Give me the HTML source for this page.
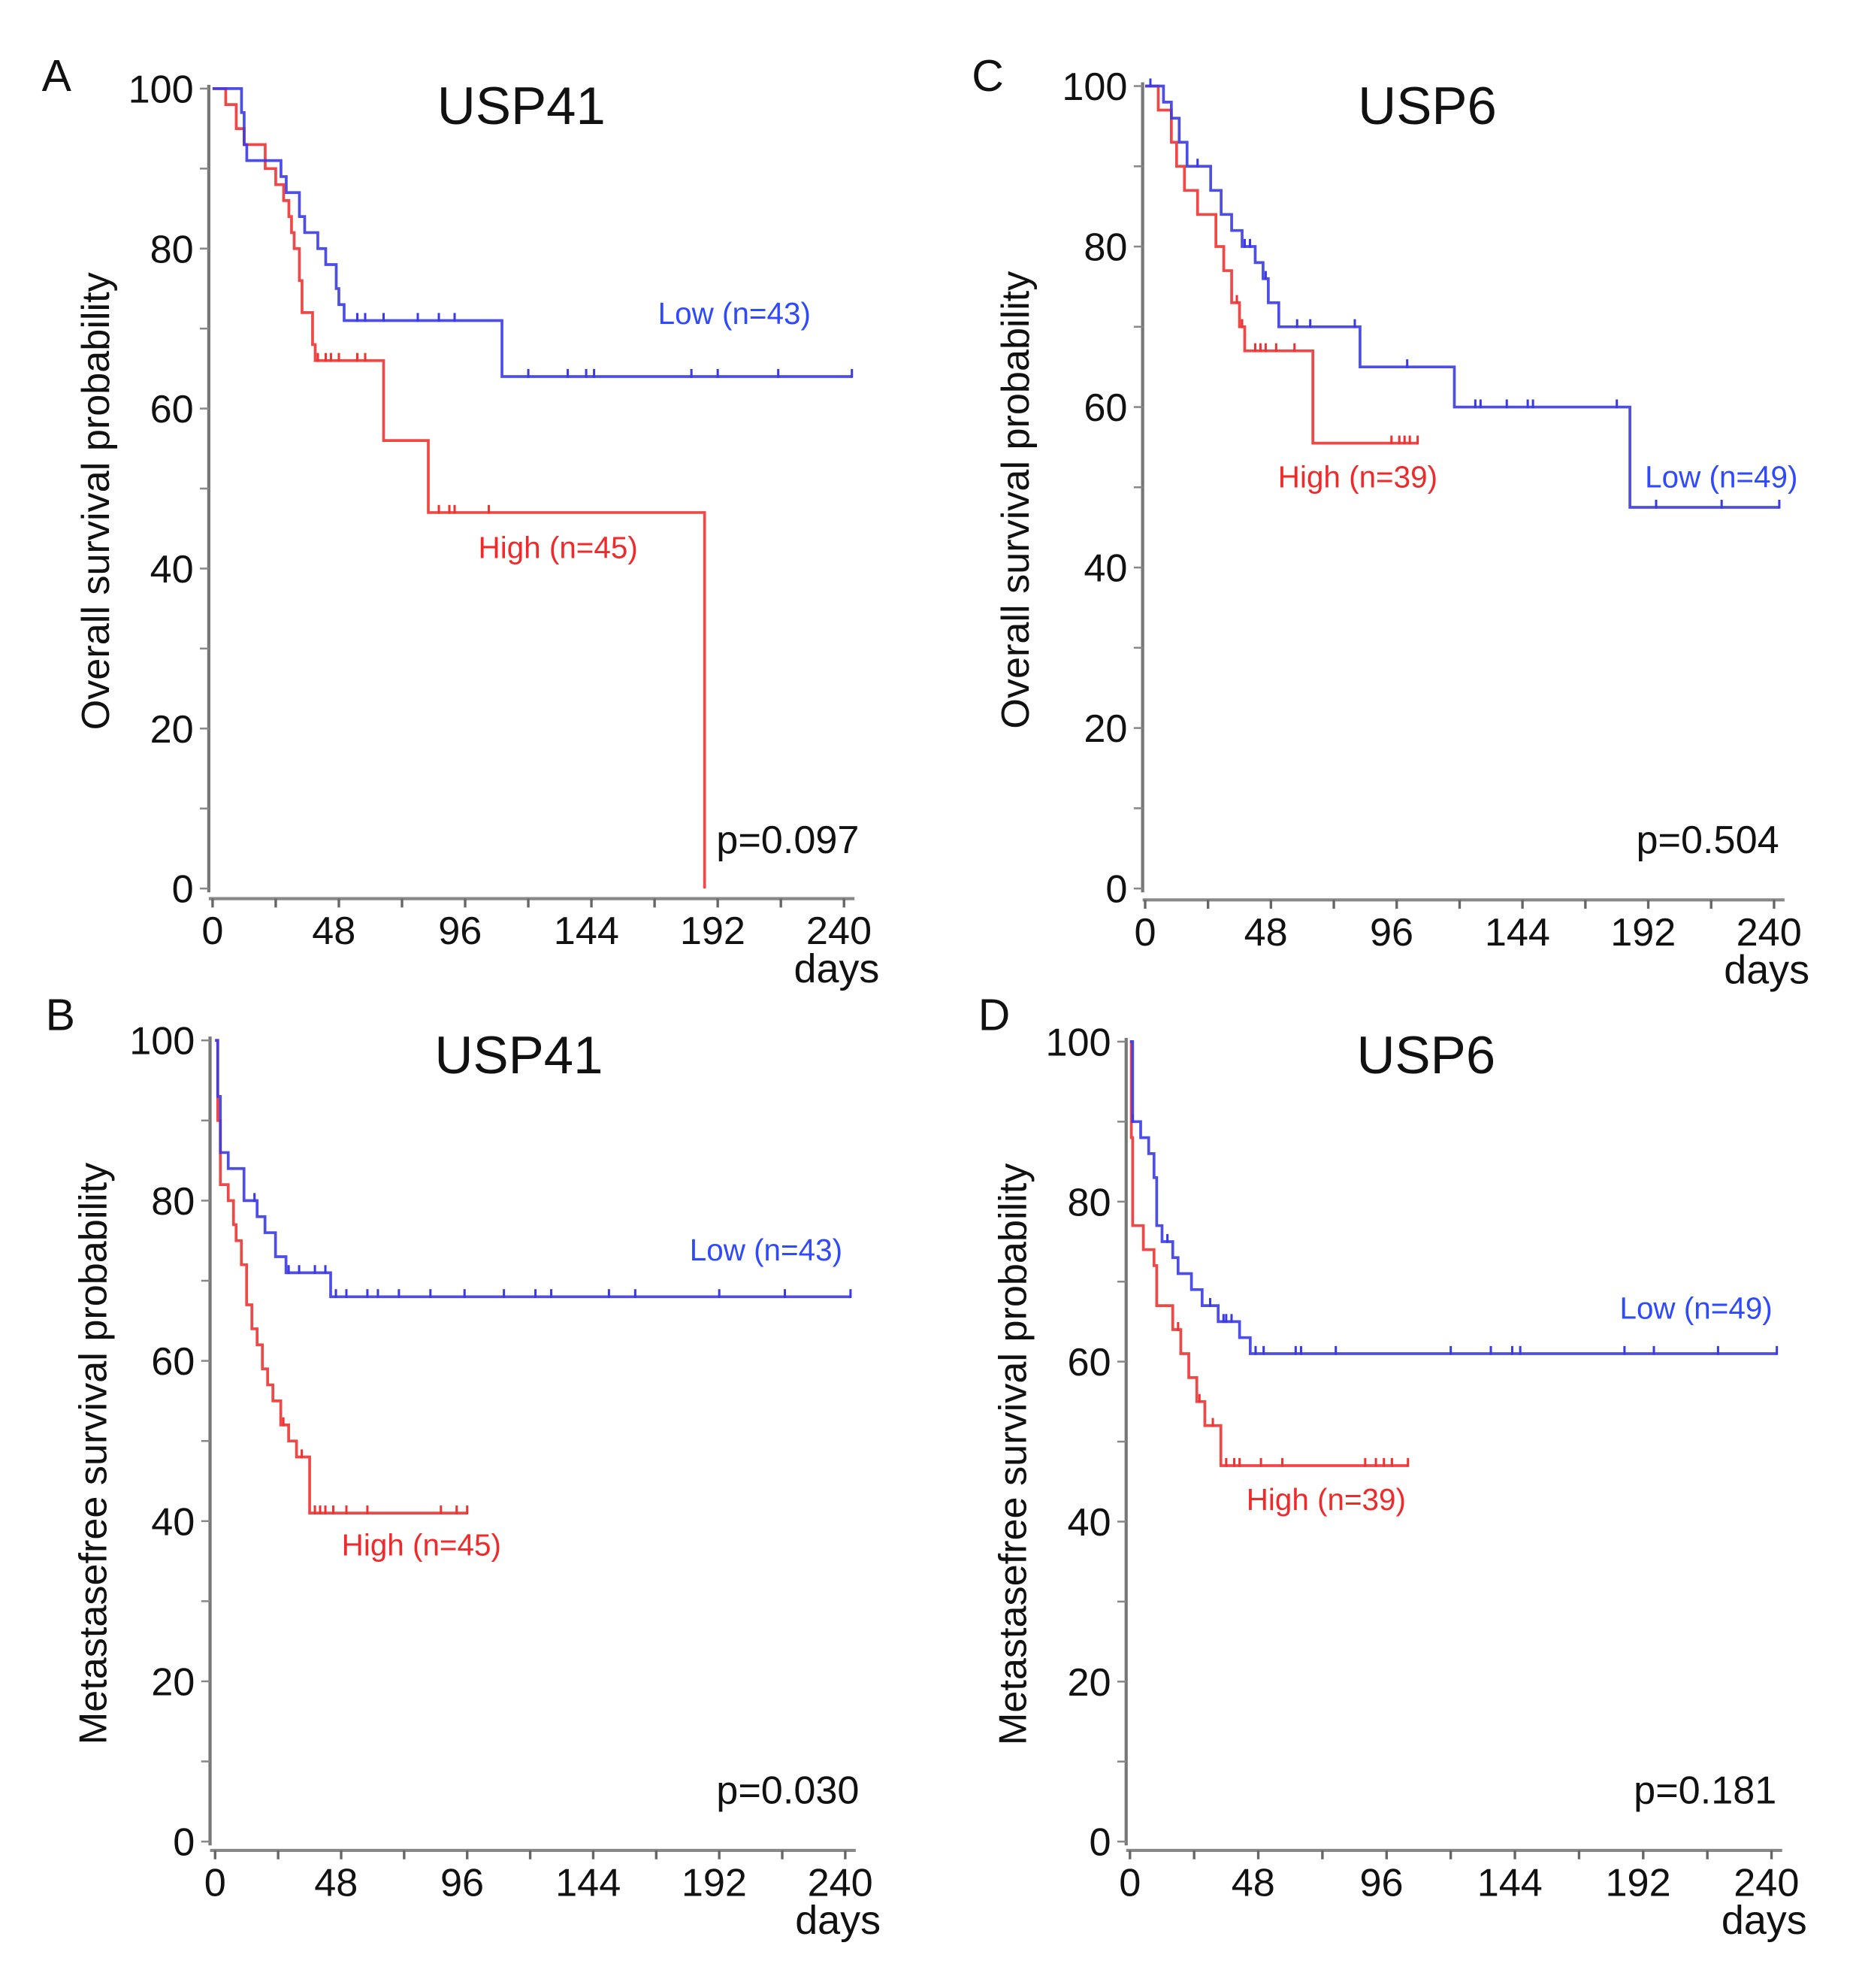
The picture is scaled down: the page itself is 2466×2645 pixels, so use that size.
<!DOCTYPE html>
<html><head><meta charset="utf-8"><title>Kaplan-Meier survival curves</title>
<style>
html,body{margin:0;padding:0;background:#fff;}
svg{display:block;}
text{font-family:"Liberation Sans",sans-serif;}
</style></head>
<body>
<svg id="fig" width="2466" height="2645" viewBox="0 0 1464.4 1570.7" xmlns="http://www.w3.org/2000/svg"></svg>
<script>
// ---- Data (days, survival %) ----
const yTicks = [0, 20, 40, 60, 80, 100];
const xTicks = [0, 48, 96, 144, 192, 240];

const aLowT = [0, 11, 12, 13, 26, 28, 33, 35, 40, 43, 47, 48, 50, 110, 243];
const aLowS = [100, 97, 93, 91, 89, 87, 84, 82, 80, 78, 75, 73, 71, 64, 64];
const aLowC = [55, 58, 65, 78, 86, 92, 120, 135, 142, 145, 182, 192, 215, 243];
const aHighT = [0, 5, 9, 12, 20, 24, 27, 29, 30, 31, 33, 34, 38, 39, 65, 82, 187, 187];
const aHighS = [100, 98, 95, 93, 90, 88, 86, 84, 82, 80, 76, 72, 68, 66, 56, 47, 47, 0];
const aHighC = [40, 43, 45, 48, 55, 58, 86, 90, 92, 105];

const bLowT = [0, 1, 2, 5, 11, 16, 19, 23, 27, 44, 242];
const bLowS = [100, 93, 86, 84, 80, 78, 76, 73, 71, 68, 68];
const bLowC = [15, 28, 32, 38, 42, 46, 50, 58, 62, 70, 82, 95, 110, 122, 128, 150, 160, 192, 217, 242];
const bHighT = [0, 1, 2, 5, 7, 8, 10, 12, 14, 16, 18, 20, 22, 25, 28, 31, 36, 96];
const bHighS = [100, 90, 82, 80, 77, 75, 72, 67, 64, 62, 59, 57, 55, 52, 50, 48, 41, 41];
const bHighC = [26, 33, 38, 40, 42, 45, 50, 58, 86, 92, 96];

const cLowT = [0, 7, 10, 13, 16, 25, 29, 33, 37, 42, 45, 47, 51, 82, 118, 185, 242];
const cLowS = [100, 98, 96, 93, 90, 87, 84, 82, 80, 78, 76, 73, 70, 65, 60, 47.5, 47.5];
const cLowC = [2, 20, 38, 40, 46, 58, 63, 80, 100, 126, 128, 138, 146, 148, 180, 195, 220, 242];
const cHighT = [0, 5, 10, 12, 15, 20, 27, 30, 33, 36, 38, 40, 64, 104];
const cHighS = [100, 97, 93, 90, 87, 84, 80, 77, 73, 70, 67, 67, 55.5, 55.5];
const cHighC = [35, 37, 42, 44, 46, 50, 57, 94, 97, 99, 101, 104];

const dLowT = [0, 1, 4, 7, 9, 10, 12, 16, 18, 23, 27, 33, 41, 45, 242];
const dLowS = [100, 90, 88, 86, 83, 77, 75, 73, 71, 69, 67, 65, 63, 61, 61];
const dLowC = [1, 14, 30, 35, 36, 38, 47, 50, 62, 64, 77, 120, 135, 143, 146, 185, 196, 220, 242];
const dHighT = [0, 0.5, 1, 5, 9, 10, 16, 19, 22, 25, 28, 34, 104];
const dHighS = [100, 88, 77, 74, 72, 67, 64, 61, 58, 55, 52, 47, 47];
const dHighC = [18, 26, 31, 36, 39, 41, 49, 57, 88, 92, 95, 98, 104];

const NS = "http://www.w3.org/2000/svg";
const svg = document.getElementById("fig");
function mk(tag, attrs, parent) {
  const e = document.createElementNS(NS, tag);
  for (const k in attrs) e.setAttribute(k, attrs[k]);
  (parent || svg).appendChild(e);
  return e;
}
function txt(str, attrs, parent) { const t = mk("text", attrs, parent); t.textContent = str; return t; }

const BLUE = "#3a3ae6", RED = "#ee3333";

function panel(cfg) {
  const g = mk("g", {});
  
  
  const xs = d => cfg.x0 + (d / 240) * (cfg.x240 - cfg.x0);
  const ys = v => cfg.y0 - (v / 100) * (cfg.y0 - cfg.y100);

  const lt = txt(cfg.letter, {x: cfg.letterX, y: cfg.letterY, "font-size": 35, fill: "#111"}, g);
  
  
  const ti = txt(cfg.title, {x: cfg.titleX, y: cfg.titleY, "font-size": 42, "text-anchor": "middle", fill: "#111"}, g);
  
  

  // y axis
  const ya = mk("line", {x1: cfg.ax, y1: cfg.y100 - 3, x2: cfg.ax, y2: cfg.y0 + 3, stroke: "#777", "stroke-width": 2.5}, g);
  
  
  for (let v = 0; v <= 100; v += 10) {
    mk("line", {x1: cfg.ax - 7, y1: ys(v), x2: cfg.ax, y2: ys(v), stroke: "#888", "stroke-width": 1.5}, g);
  }
  yTicks.forEach(v => {
    const t = txt(String(v), {x: cfg.ax - 12, y: ys(v) + 11, "font-size": 31, "text-anchor": "end", fill: "#111"}, g);
    
    
  });
  const yl = txt(cfg.ylab, {x: 0, y: 0, "font-size": 31, "text-anchor": "middle", fill: "#111",
    transform: `translate(${cfg.ylabX},${(cfg.y0 + cfg.y100) / 2 + 10}) rotate(-90)`}, g);
  
  

  // x axis
  const xa = mk("line", {x1: cfg.ax, y1: cfg.xay, x2: xs(244), y2: cfg.xay, stroke: "#888", "stroke-width": 2.5}, g);
  
  
  for (let d = 0; d <= 240; d += 24) {
    mk("line", {x1: xs(d), y1: cfg.xay, x2: xs(d), y2: cfg.xay + 7, stroke: "#666", "stroke-width": 2}, g);
  }
  xTicks.forEach(d => {
    const t = txt(String(d), {x: xs(d) + (d === 0 ? 0 : -4), y: cfg.xay + 36, "font-size": 31, "text-anchor": "middle", fill: "#111"}, g);
    
    
  });
  const dl = txt("days", {x: cfg.x240 + 28, y: cfg.xay + 66, "font-size": 32, "text-anchor": "end", fill: "#111"}, g);
  
  

  function curve(T, S, C, color, name) {
    let d = `M${xs(T[0])},${ys(S[0])}`;
    for (let i = 1; i < T.length; i++) d += ` H${xs(T[i])} V${ys(S[i])}`;
    const p = mk("path", {d: d, fill: "none", stroke: color, "stroke-width": 2.2, "stroke-opacity": 0.9}, g);
    
    
    C.forEach(c => {
      let s = S[0];
      for (let i = 0; i < T.length; i++) if (T[i] <= c) s = S[i];
      const m = mk("line", {x1: xs(c), y1: ys(s) - 6, x2: xs(c), y2: ys(s) + 1, stroke: color, "stroke-width": 1.8}, g);
      
      
    });
  }
  curve(cfg.highT, cfg.highS, cfg.highC, RED, 'high');
  curve(cfg.lowT, cfg.lowS, cfg.lowC, BLUE, 'low');

  const ll = txt(cfg.lowLab, {x: cfg.lowX, y: cfg.lowY, "font-size": 24, fill: "#2f49ff"}, g);
  
  
  const hl = txt(cfg.highLab, {x: cfg.highX, y: cfg.highY, "font-size": 24, fill: "#f02a2a"}, g);
  
  
  const pv = txt(cfg.p, {x: cfg.pX, y: cfg.pY, "font-size": 31, "text-anchor": "end", fill: "#111"}, g);
  
  
}

panel({letter: "A", letterX: 33, letterY: 72, title: "USP41", titleX: 412, titleY: 98,
  ax: 165, x0: 168, x240: 667, y0: 702, y100: 70, xay: 710, ylab: "Overall survival probability", ylabX: 86,
  lowT: aLowT, lowS: aLowS, lowC: aLowC, highT: aHighT, highS: aHighS, highC: aHighC,
  lowLab: "Low (n=43)", lowX: 520, lowY: 256, highLab: "High (n=45)", highX: 378, highY: 441,
  p: "p=0.097", pX: 679, pY: 674});
panel({letter: "C", letterX: 768, letterY: 72, title: "USP6", titleX: 1128, titleY: 98,
  ax: 903, x0: 905, x240: 1402, y0: 702, y100: 68, xay: 711, ylab: "Overall survival probability", ylabX: 813,
  lowT: cLowT, lowS: cLowS, lowC: cLowC, highT: cHighT, highS: cHighS, highC: cHighC,
  lowLab: "Low (n=49)", lowX: 1300, lowY: 385, highLab: "High (n=39)", highX: 1010, highY: 385,
  p: "p=0.504", pX: 1406, pY: 674});
panel({letter: "B", letterX: 36, letterY: 814, title: "USP41", titleX: 410, titleY: 848,
  ax: 166, x0: 170, x240: 668, y0: 1455, y100: 822, xay: 1462, ylab: "Metastasefree survival probability", ylabX: 84,
  lowT: bLowT, lowS: bLowS, lowC: bLowC, highT: bHighT, highS: bHighS, highC: bHighC,
  lowLab: "Low (n=43)", lowX: 545, lowY: 996, highLab: "High (n=45)", highX: 270, highY: 1229,
  p: "p=0.030", pX: 679, pY: 1425});
panel({letter: "D", letterX: 773, letterY: 814, title: "USP6", titleX: 1127, titleY: 848,
  ax: 890, x0: 893, x240: 1400, y0: 1455, y100: 823, xay: 1462, ylab: "Metastasefree survival probability", ylabX: 811,
  lowT: dLowT, lowS: dLowS, lowC: dLowC, highT: dHighT, highS: dHighS, highC: dHighC,
  lowLab: "Low (n=49)", lowX: 1280, lowY: 1042, highLab: "High (n=39)", highX: 985, highY: 1193,
  p: "p=0.181", pX: 1404, pY: 1425});
</script>
</body></html>
